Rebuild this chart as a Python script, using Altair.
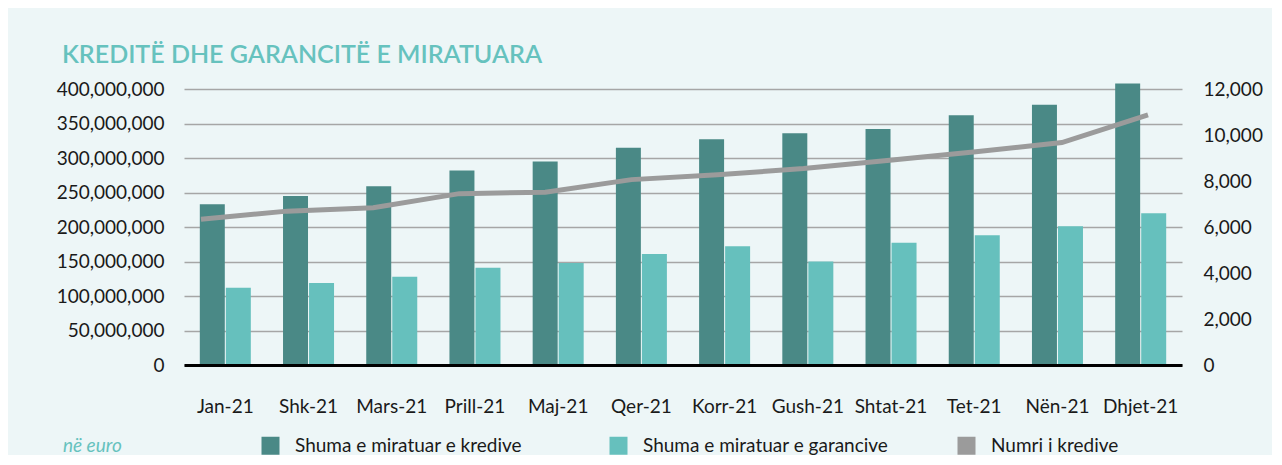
import altair as alt
import pandas as pd

months = ["Jan-21", "Shk-21", "Mars-21", "Prill-21", "Maj-21", "Qer-21",
          "Korr-21", "Gush-21", "Shtat-21", "Tet-21", "Nën-21", "Dhjet-21"]
kredite = [233e6, 245e6, 259e6, 282e6, 295e6, 315e6, 327e6, 336e6, 342e6, 362e6, 377e6, 408e6]
garanci = [112e6, 119e6, 128e6, 141e6, 148e6, 161e6, 172e6, 150e6, 177e6, 188e6, 201e6, 220e6]
numri = [6340, 6690, 6840, 7450, 7510, 8060, 8270, 8540, 8900, 9270, 9670, 10870]

s1 = "Shuma e miratuar e kredive"
s2 = "Shuma e miratuar e garancive"
s3 = "Numri i kredive"
series_names = [s1, s2, s3]
colors = ["#4A8986", "#66C0BD", "#9B9B9B"]

bars_df = pd.DataFrame({
    "month": months * 2,
    "series": [s1] * len(months) + [s2] * len(months),
    "value": kredite + garanci,
})
line_df = pd.DataFrame({"month": months, "count": numri})

FONT = "Lato"
FS = 19

bars = alt.Chart(bars_df).mark_bar().encode(
    x=alt.X("month:N", sort=months,
            scale=alt.Scale(paddingInner=0.387, paddingOuter=0.19),
            axis=alt.Axis(title=None, labelAngle=0, labelFontSize=FS, labelFont=FONT,
                          labelColor="#1a1a1a", labelPadding=32, ticks=False,
                          domainColor="#000000", domainWidth=3, zindex=1, grid=False)),
    xOffset=alt.XOffset("series:N", sort=[s1, s2], scale=alt.Scale(paddingInner=0.04)),
    y=alt.Y("value:Q",
            scale=alt.Scale(domain=[0, 400000000], nice=False),
            axis=alt.Axis(title=None, values=list(range(0, 400000001, 50000000)), format=",d",
                          labelFontSize=FS, labelFont=FONT, labelColor="#1a1a1a",
                          labelPadding=20, ticks=False, domain=False,
                          grid=True, gridColor="#A6A6A6", gridWidth=1.5)),
    color=alt.Color("series:N",
                    scale=alt.Scale(domain=series_names, range=colors),
                    legend=alt.Legend(title="në euro", orient="none", legendX=-121, legendY=347,
                                      direction="horizontal", titleOrient="left",
                                      titleFont=FONT, titleFontSize=FS, titleFontStyle="italic",
                                      titleFontWeight="normal", titleColor="#66C2BE",
                                      titlePadding=139, titleBaseline="middle",
                                      labelFont=FONT, labelFontSize=FS, labelColor="#1a1a1a",
                                      symbolType="square", symbolSize=324, symbolStrokeWidth=0,
                                      labelOffset=15, columnPadding=68, gridAlign="all",
                                      labelLimit=400)),
)

line = alt.Chart(line_df).mark_line(color="#9B9B9B", strokeWidth=5).encode(
    x=alt.X("month:N", sort=months,
            scale=alt.Scale(type="point", padding=0.296, align=0.333), axis=None),
    y=alt.Y("count:Q",
            scale=alt.Scale(domain=[0, 12000], nice=False),
            axis=alt.Axis(title=None, orient="right", values=list(range(0, 12001, 2000)),
                          format=",d", labelFontSize=FS, labelFont=FONT, labelColor="#1a1a1a",
                          labelPadding=21, ticks=False, domain=False, grid=False)),
)

chart = alt.layer(bars, line).resolve_scale(
    y="independent", x="independent"
).properties(
    width=998, height=276,
    autosize=alt.AutoSizeParams(type="none"),
    padding={"left": 176, "top": 81, "right": 90, "bottom": 90},
    background="#EDF6F7",
    title=alt.TitleParams("KREDITË DHE GARANCITË E MIRATUARA", anchor="start", frame="group",
                          dx=-122, dy=26, offset=18, font=FONT, fontSize=25, fontWeight=600,
                          color="#66C2BE", baseline="alphabetic"),
).configure_view(stroke=None)

chart.save("out.html", embed_options={"renderer": "svg", "actions": False})
